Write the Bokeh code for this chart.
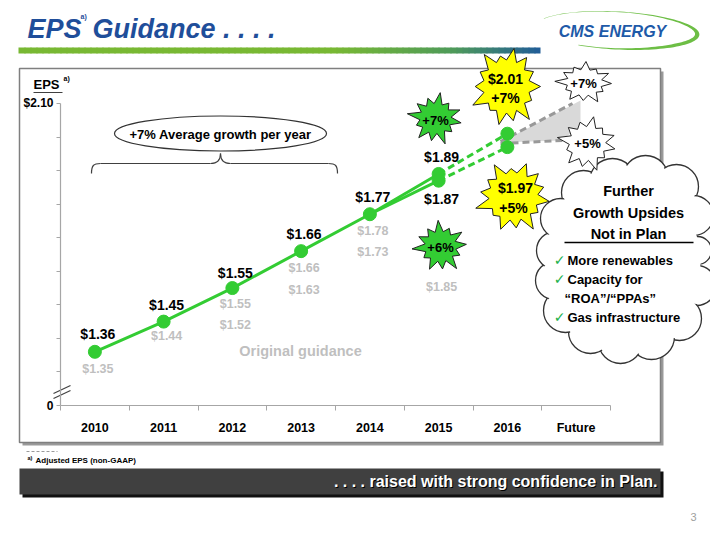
import math
from bokeh.plotting import figure
from bokeh.models import Range1d, FixedTicker
from bokeh.core.properties import value
from bokeh.embed import file_html
from bokeh.resources import INLINE

# ---------------- data ----------------
years = ["2010", "2011", "2012", "2013", "2014", "2015", "2016", "Future"]
eps_years = ["2010", "2011", "2012", "2013", "2014"]
eps_values = [1.36, 1.45, 1.55, 1.66, 1.77]
plan_years = ["2015", "2016"]
high_values = [1.89, 2.01]
low_values = [1.87, 1.97]
orig_years = ["2010", "2011", "2012", "2012", "2013", "2013", "2014", "2014", "2015"]
orig_values = [1.35, 1.44, 1.55, 1.52, 1.66, 1.63, 1.78, 1.73, 1.85]
y_ticks = [1.2, 1.3, 1.4, 1.5, 1.6, 1.7, 1.8, 1.9, 2.0, 2.1]
y_tick_labels = {1.2: "0", 2.1: "$2.10"}
growth_high = ["+7%", "$2.01", "+7%", "+7%"]
growth_low = ["+6%", "$1.97", "+5%", "+5%"]
upsides = ["More renewables", "Capacity for", "\u201cROA\u201d/\u201cPPAs\u201d", "Gas infrastructure"]

# ---------------- styles ----------------
FONT = "Liberation Sans"
GREEN = "#33CC33"
BLUE = "#1F4E9A"
GRAY_TXT = "#BFBFBF"
AXIS_GRAY = "#A6A6A6"

W, H = 710, 533
CAT_PX = 68.75          # pixels per category
X0_PX = 60              # pixel of the y axis
Y_PX = 335.56           # pixels per dollar
Y0_PX = 405             # pixel (from top) of the axis bottom value 1.20
x_start = -0.5 - X0_PX / CAT_PX
y_start = 1.2 - (H - Y0_PX) / Y_PX

p = figure(width=W, height=H, output_backend="svg", toolbar_location=None, title=None,
           x_range=Range1d(x_start, x_start + W / CAT_PX),
           y_range=Range1d(y_start, y_start + H / Y_PX),
           min_border=0, min_border_left=0, min_border_right=0, min_border_top=0, min_border_bottom=0)
p.extra_x_ranges = {"px": Range1d(0, W)}
p.extra_y_ranges = {"py": Range1d(-H, 0)}
p.outline_line_color = None
p.xgrid.visible = False
p.ygrid.visible = False
p.background_fill_color = "white"
p.border_fill_color = "white"

PX = dict(x_range_name="px", y_range_name="py")


def neg(v):
    return [-a for a in v]


def txt(x, y, s, size, color="black", style="bold", align="center", baseline="middle", font=FONT, **kw):
    p.text(x=[x], y=[-y], text=[s], text_font=value(font), text_font_size=f"{size}px",
           text_font_style=style, text_color=color, text_align=align, text_baseline=baseline, **PX, **kw)


def hexmix(c1, c2, t):
    a = [int(c1[i:i + 2], 16) for i in (1, 3, 5)]
    b = [int(c2[i:i + 2], 16) for i in (1, 3, 5)]
    return "#%02x%02x%02x" % tuple(int(round(a[k] + (b[k] - a[k]) * t)) for k in range(3))


# ---------------- title ----------------
txt(27, 28, "EPS", 27, color=BLUE, style="bold italic", align="left")
txt(80, 16, "a)", 7, color=BLUE, style="bold", align="left")
txt(92, 28, "Guidance . . . .", 27, color=BLUE, style="bold italic", align="left")
# gradient bar under the title
stops = [(18, "#78B833"), (330, "#78B833"), (450, "#4E9A5A"), (540, "#1F5A9A")]
bl, br, bc = [], [], []
xx = 18
while xx < 540:
    for k in range(len(stops) - 1):
        if stops[k][0] <= xx <= stops[k + 1][0]:
            t = (xx - stops[k][0]) / (stops[k + 1][0] - stops[k][0])
            bc.append(hexmix(stops[k][1], stops[k + 1][1], t))
            break
    bl.append(xx)
    br.append(min(xx + 7, 540))
    xx += 6
p.quad(left=bl, right=br, top=[-47] * len(bl), bottom=[-53] * len(bl), fill_color=bc, line_color=None, **PX)

# logo swoosh
cx, cy, rx, ry, phi = 617, 30, 82, 19, math.radians(3)
outer, inner = [], []
th = 155
while th >= -118:
    a = math.radians(th)
    tk = 0.4 + 4.2 * math.exp(-((th + 15) / 60.0) ** 2)
    for (rr, lst) in ((0, outer), (tk, inner)):
        dx = (rx - rr) * math.cos(a)
        dy = -(ry - rr) * math.sin(a)
        lst.append((cx + dx * math.cos(phi) - dy * math.sin(phi), cy + dx * math.sin(phi) + dy * math.cos(phi)))
    th -= 3
sw = outer + inner[::-1]
p.patch([q[0] for q in sw], [-q[1] for q in sw], fill_color="#6DBE45", line_color=None, **PX)
txt(612, 31, "CMS ENERGY", 16, color="#1E5AA8", style="bold italic")

# ---------------- chart box ----------------
p.quad(left=[22], right=[663], top=[-71], bottom=[-445], fill_color="#9A9A9A", line_color=None, **PX)
p.quad(left=[19], right=[660], top=[-68], bottom=[-442], fill_color="white", line_color="#7F7F7F", line_width=1.5, **PX)

# ---------------- axes ----------------
xaxis = p.xaxis[0]
xaxis.fixed_location = 1.2
xaxis.ticker = FixedTicker(ticks=list(range(len(years))), minor_ticks=[i - 0.5 for i in range(len(years) + 1)])
xaxis.major_label_overrides = {i: y for i, y in enumerate(years)}
xaxis.bounds = (-0.5, len(years) - 0.5)
xaxis.major_tick_line_color = None
xaxis.major_tick_out = 0
xaxis.major_tick_in = 0
xaxis.minor_tick_out = 5
xaxis.minor_tick_in = 0
xaxis.minor_tick_line_color = AXIS_GRAY
xaxis.axis_line_color = AXIS_GRAY
xaxis.axis_line_width = 1.2
xaxis.major_label_text_font = FONT
xaxis.major_label_text_font_style = "bold"
xaxis.major_label_text_font_size = "12.5px"
xaxis.major_label_text_color = "black"
xaxis.major_label_standoff = 10

yaxis = p.yaxis[0]
yaxis.fixed_location = -0.5
yaxis.ticker = FixedTicker(ticks=y_ticks)
ov = {t: "" for t in y_ticks}
ov.update(y_tick_labels)
yaxis.major_label_overrides = ov
yaxis.bounds = (1.2, 2.1)
yaxis.major_tick_out = 4
yaxis.major_tick_in = 0
yaxis.major_tick_line_color = AXIS_GRAY
yaxis.minor_tick_line_color = None
yaxis.axis_line_color = AXIS_GRAY
yaxis.axis_line_width = 1.2
yaxis.major_label_text_font = FONT
yaxis.major_label_text_font_style = "bold"
yaxis.major_label_text_font_size = "12px"
yaxis.major_label_text_color = "black"
yaxis.major_label_standoff = 3

# axis break
p.quad(left=[56], right=[64], top=[-382], bottom=[-401], fill_color="white", line_color=None, **PX)
p.segment(x0=[53, 53], y0=[-393, -398], x1=[70, 70], y1=[-385, -390], line_color="#404040", line_width=1.3, **PX)

# EPS axis title
txt(46, 84, "EPS", 13)
p.segment(x0=[33], y0=[-92], x1=[62], y1=[-92], line_color="#404040", line_width=1, **PX)
txt(63, 78, "a)", 7, align="left")

# ---------------- growth ellipse and brace ----------------
p.ellipse(x=[220], y=[-133], width=[212], height=[35], fill_color="white", line_color="#333333", line_width=1.2, **PX)
txt(220, 134, "+7% Average growth per year", 13)
p.bezier(x0=[91, 210, 220, 328], y0=neg([173, 163, 153, 163]),
         x1=[100, 220, 230, 337], y1=neg([163, 153, 163, 173]),
         cx0=[91, 216, 220, 335], cy0=neg([165, 163, 160, 163]),
         cx1=[93, 220, 224, 337], cy1=neg([163, 160, 163, 165]),
         line_color="#404040", line_width=1.2, **PX)
p.segment(x0=[100, 230], y0=[-163, -163], x1=[210, 328], y1=[-163, -163], line_color="#404040", line_width=1.2, **PX)

# ---------------- future wedge ----------------
p.patch([500, 580, 580, 560], neg([142, 100, 126, 140]), fill_color="#D9D9D9", line_color=None, **PX)
p.segment(x0=[500, 500], y0=[-141, -143], x1=[572, 562], y1=[-103, -140], line_color="#999999", line_width=3,
          line_dash="7 4", **PX)

# ---------------- EPS lines ----------------
xi = {y: i for i, y in enumerate(years)}
ex = [xi[y] for y in eps_years]
p.line(ex + [xi[plan_years[0]]], eps_values + [high_values[0]], line_color=GREEN, line_width=3)
p.line([ex[-1], xi[plan_years[0]]], [eps_values[-1], low_values[0]], line_color=GREEN, line_width=3)
px_ = [xi[y] for y in plan_years]
p.line(px_, high_values, line_color=GREEN, line_width=3, line_dash="7 4")
p.line(px_, low_values, line_color=GREEN, line_width=3, line_dash="7 4")
p.scatter(ex + px_ + px_, eps_values + high_values + low_values, size=13, fill_color=GREEN, line_color=GREEN)

# value labels
lab_x = ex + [px_[0], px_[0]]
lab_y = eps_values + [high_values[0], low_values[0]]
lab_t = ["$%.2f" % v for v in lab_y]
lab_off = [-18, -17, -15, -17, -17, -17, 18]
p.text(x=lab_x, y=lab_y, text=lab_t, y_offset=lab_off, x_offset=3, text_font=value(FONT),
       text_font_style="bold", text_font_size="14px", text_color="black", text_align="center",
       text_baseline="middle")

# original guidance labels
anchor = dict(zip(eps_years, eps_values))
anchor[plan_years[0]] = low_values[0]
orig_off = [17, 14, 16, 37, 17, 39, 17, 38, 106]
p.text(x=[xi[y] for y in orig_years], y=[anchor[y] for y in orig_years], text=["$%.2f" % v for v in orig_values],
       y_offset=orig_off, x_offset=3, text_font=value(FONT), text_font_style="bold", text_font_size="12.5px",
       text_color=GRAY_TXT, text_align="center", text_baseline="middle")
txt(300, 350, "Original guidance", 14.5, color=GRAY_TXT)

# ---------------- cloud ----------------
cloud = [(583, 192, 22), (612, 181, 23), (645, 178, 23), (676, 186, 22), (693, 215, 20), (697, 250, 14),
         (696, 285, 20), (679, 318, 22), (651, 336, 23), (620, 341, 22), (590, 331, 22), (565, 310, 22),
         (554, 280, 19), (555, 250, 19), (560, 218, 20)]
p.circle(x=[c[0] for c in cloud], y=[-c[1] for c in cloud], radius=[c[2] for c in cloud],
         fill_color="white", line_color="#333333", line_width=1.3, **PX)
p.circle(x=[c[0] for c in cloud], y=[-c[1] for c in cloud], radius=[c[2] - 1.6 for c in cloud],
         fill_color="white", line_color=None, **PX)
p.ellipse(x=[625], y=[-262], width=[150], height=[170], fill_color="white", line_color=None, **PX)
txt(628, 190, "Further", 14.5)
txt(628, 212, "Growth Upsides", 14.5)
txt(628, 233, "Not in Plan", 14.5)
p.segment(x0=[564], y0=[-242], x1=[693], y1=[-242], line_color="black", line_width=1.5, **PX)
ux = [567, 567, 564, 567]
uy = [260, 279, 298, 317]
for k, s in enumerate(upsides):
    txt(ux[k], uy[k], s, 13, align="left")
    if k != 2:
        txt(559, uy[k] - 1, "\u2713", 14, color="#22B14C", font="DejaVu Sans", align="center")

# ---------------- stars ----------------
pattern = [1.0, 0.82, 1.08, 0.9, 1.0, 0.78, 1.1, 0.92, 0.86, 1.05, 0.8, 1.0, 0.95, 0.88]


def star(cx, cy, rx, ry, n, inner, rot, fill):
    xs, ys = [], []
    for i in range(2 * n):
        a = math.radians(rot) + i * math.pi / n
        r = pattern[(i // 2) % len(pattern)] if i % 2 == 0 else inner
        xs.append(cx + rx * r * math.cos(a))
        ys.append(-(cy + ry * r * math.sin(a)))
    p.patch(xs, ys, fill_color=fill, line_color="#222222", line_width=1, **PX)


star(435, 118, 26, 25, 12, 0.6, 10, GREEN)
star(440, 246, 26, 25, 12, 0.6, -5, GREEN)
star(506, 86, 34, 39, 14, 0.68, 0, "#FFFF00")
star(513, 196, 36, 35, 14, 0.68, 8, "#FFFF00")
star(584, 82, 27, 20, 12, 0.65, 3, "white")
star(587, 143, 28, 26, 12, 0.65, 12, "white")
txt(435, 120, growth_high[0], 13)
txt(440, 247, growth_low[0], 13)
txt(505, 78, growth_high[1], 14)
txt(505, 97, growth_high[2], 14)
txt(515, 187, growth_low[1], 14)
txt(513, 207, growth_low[2], 14)
txt(583, 83, growth_high[3], 13)
txt(587, 143, growth_low[3], 13)

# ---------------- footer ----------------
p.segment(x0=[26], y0=[-451], x1=[57], y1=[-451], line_color="#9A9A9A", line_width=1, line_dash="3 2", **PX)
txt(27, 457, "a)", 5.5, align="left")
txt(35, 460, "Adjusted EPS (non-GAAP)", 8, align="left")
p.quad(left=[22], right=[663], top=[-471], bottom=[-497], fill_color="#111111", line_color=None, **PX)
p.quad(left=[19], right=[660], top=[-468], bottom=[-494], fill_color="#404040", line_color=None, **PX)
txt(658, 482, ". . . . raised with strong confidence in Plan.", 16, color="black", align="right")
txt(657, 481, ". . . . raised with strong confidence in Plan.", 16, color="white", align="right")
txt(693, 516, "3", 11, color="#A0A0A0", style="normal")

open("out.html", "w").write(file_html(p, INLINE))
